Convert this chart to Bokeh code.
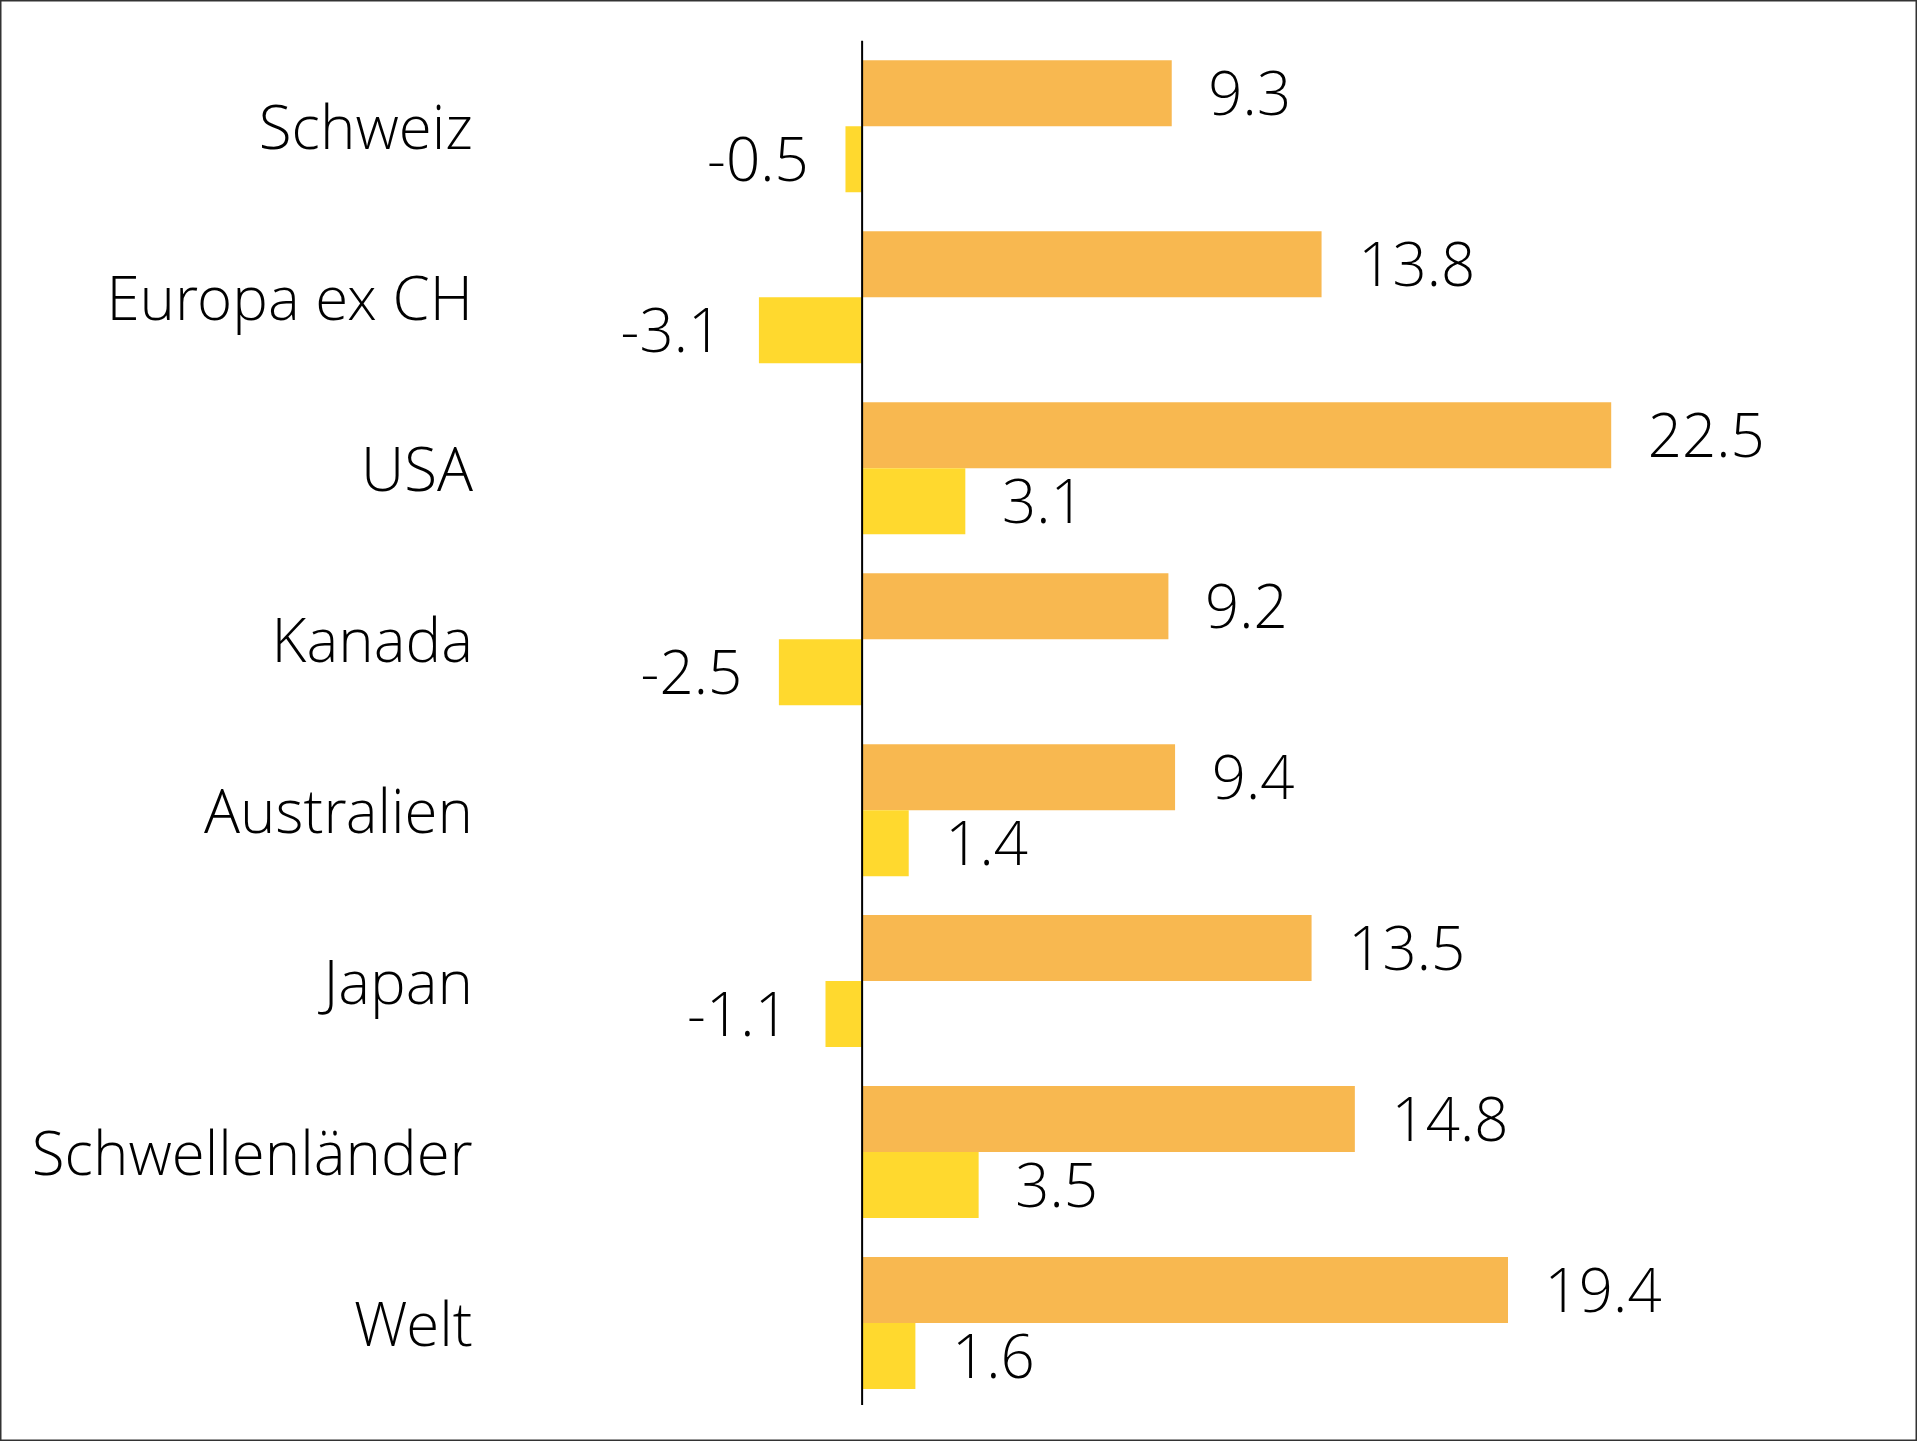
from bokeh.plotting import figure
from bokeh.models import Range1d, ColumnDataSource
from bokeh.core.properties import value
from bokeh.embed import file_html
from bokeh.resources import INLINE

categories = ["Schweiz", "Europa ex CH", "USA", "Kanada", "Australien",
              "Japan", "Schwellenländer", "Welt"]
series_a = [9.3, 13.8, 22.5, 9.2, 9.4, 13.5, 14.8, 19.4]
series_b = [-0.5, -3.1, 3.1, -2.5, 1.4, -1.1, 3.5, 1.6]

ORANGE = "#F8B850"
YELLOW = "#FFD92E"
FONT = "Open Sans Light"
FS = "60px"

W, H = 1917, 1441
p = figure(width=W, height=H, output_backend="svg", toolbar_location=None,
           x_range=Range1d(-25.88, 31.70), y_range=Range1d(7.693, -0.736),
           min_border=0)
p.axis.visible = False
p.grid.visible = False
p.outline_line_color = "#333333"
p.outline_line_width = 2
p.background_fill_color = "white"
p.border_fill_color = "white"

n = len(categories)
idx = list(range(n))
bh = 0.386
ya = [i - bh / 2 for i in idx]
yb = [i + bh / 2 for i in idx]

p.hbar(y=ya, left=0, right=series_a, height=bh, fill_color=ORANGE, line_color=None)
p.hbar(y=yb, left=0, right=series_b, height=bh, fill_color=YELLOW, line_color=None)

# vertical zero line
p.segment(x0=[0], y0=[-0.5], x1=[0], y1=[7.48], line_color="black", line_width=2)

# category labels
p.text(x=[-11.69] * n, y=idx, text=categories, text_align="right",
       text_baseline="middle", text_font=value(FONT), text_font_size=FS,
       text_color="black")

# value labels
off = 1.1
lab_a = ColumnDataSource(dict(x=[v + off for v in series_a], y=ya,
                              t=[f"{v:.1f}" for v in series_a]))
p.text(x="x", y="y", text="t", source=lab_a, text_align="left",
       text_baseline="middle", text_font=value(FONT), text_font_size=FS,
       text_color="black")

pos_b = [(v, y) for v, y in zip(series_b, yb) if v >= 0]
neg_b = [(v, y) for v, y in zip(series_b, yb) if v < 0]
p.text(x=[v + off for v, _ in pos_b], y=[y for _, y in pos_b],
       text=[f"{v:.1f}" for v, _ in pos_b], text_align="left",
       text_baseline="middle", text_font=value(FONT), text_font_size=FS,
       text_color="black")
p.text(x=[v - off for v, _ in neg_b], y=[y for _, y in neg_b],
       text=[f"{v:.1f}" for v, _ in neg_b], text_align="right",
       text_baseline="middle", text_font=value(FONT), text_font_size=FS,
       text_color="black")

open("out.html", "w").write(file_html(p, INLINE))
